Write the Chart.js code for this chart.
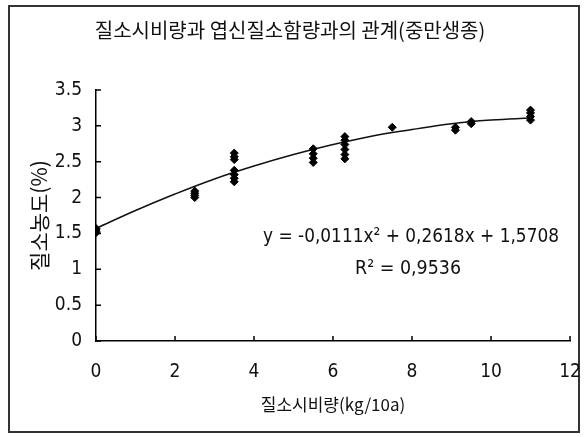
<!DOCTYPE html>
<html>
<head>
<meta charset="utf-8">
<script src="https://cdn.jsdelivr.net/npm/chart.js@4.4.1/dist/chart.umd.min.js"></script>
<style>
  html, body { margin: 0; padding: 0; background: #fff; }
</style>
</head>
<body>
<canvas id="chart" width="587" height="437"></canvas>
<script>
// nitrogen application rate (kg/10a) and leaf blade N content (%)
const rateX = [0, 0, 0, 0,
  2.5, 2.5, 2.5, 2.5,
  3.5, 3.5, 3.5, 3.5, 3.5, 3.5, 3.5,
  5.5, 5.5, 5.5, 5.5,
  6.3, 6.3, 6.3, 6.3, 6.3, 6.3,
  7.5,
  9.1, 9.1,
  9.5, 9.5,
  11, 11, 11, 11];
const contentY = [1.51, 1.53, 1.55, 1.57,
  2.0, 2.03, 2.06, 2.09,
  2.62, 2.57, 2.53, 2.38, 2.32, 2.27, 2.22,
  2.49, 2.55, 2.61, 2.68,
  2.54, 2.6, 2.67, 2.74, 2.8, 2.85,
  2.98,
  2.94, 2.98,
  3.03, 3.06,
  3.08, 3.13, 3.18, 3.22];

// trend line
const trendX = [0, 1, 2, 3, 4, 5, 6, 7, 8, 9, 10, 11];
const trendY = [1.57, 1.82, 2.05, 2.26, 2.44, 2.60, 2.74, 2.86, 2.95, 3.03, 3.08, 3.11];

const yTickLabels = ['0', '0.5', '1', '1.5', '2', '2.5', '3', '3.5'];
const xTickLabels = ['0', '2', '4', '6', '8', '10', '12'];

const titleText = '질소시비량과 엽신질소함량과의 관계(중만생종)';
const xTitle = '질소시비량(kg/10a)';
const yTitle = '질소농도(%)';
const eqText = 'y = -0,0111x² + 0,2618x + 1,5708';
const r2Text = 'R² = 0,9536';

const numFont = '"Liberation Sans Narrow", "DejaVu Sans Condensed", "Liberation Sans", sans-serif';
const krFont = '"Noto Sans CJK KR", sans-serif';

// frame, inward tick marks and equation label
const extras = {
  id: 'extras',
  beforeDraw(chart) {
    const ctx = chart.ctx;
    ctx.save();
    ctx.fillStyle = '#fff';
    ctx.fillRect(0, 0, chart.width, chart.height);
    ctx.strokeStyle = '#333';
    ctx.lineWidth = 2;
    ctx.strokeRect(9, 6, 570, 426);
    ctx.restore();
  },
  afterDraw(chart) {
    const ctx = chart.ctx;
    const { x, y } = chart.scales;
    const area = chart.chartArea;
    ctx.save();
    ctx.strokeStyle = '#000';
    ctx.lineWidth = 1.5;
    ctx.beginPath();
    x.ticks.forEach(t => {
      const px = x.getPixelForValue(t.value);
      ctx.moveTo(px, area.bottom);
      ctx.lineTo(px, area.bottom - 5);
    });
    y.ticks.forEach(t => {
      const py = y.getPixelForValue(t.value);
      ctx.moveTo(area.left, py);
      ctx.lineTo(area.left + 5, py);
    });
    ctx.stroke();

    ctx.fillStyle = '#111';
    ctx.textAlign = 'center';
    ctx.textBaseline = 'middle';
    ctx.font = '20px ' + numFont;
    ctx.fillText(eqText, 411, 237, 296);
    ctx.fillText(r2Text, 408, 269, 106);
    ctx.restore();
  }
};

new Chart(document.getElementById('chart'), {
  type: 'scatter',
  data: {
    datasets: [{
      label: 'data',
      data: rateX.map((v, i) => ({ x: v, y: contentY[i] })),
      pointStyle: 'rectRot',
      pointRadius: 4,
      backgroundColor: '#000',
      borderColor: '#000',
      borderWidth: 1
    }, {
      label: 'trend',
      data: trendX.map((v, i) => ({ x: v, y: trendY[i] })),
      showLine: true,
      pointRadius: 0,
      borderColor: '#111',
      borderWidth: 1.5,
      tension: 0.4,
      fill: false
    }]
  },
  options: {
    responsive: false,
    animation: false,
    layout: { padding: { left: 10, right: 17, top: 6, bottom: 10 } },
    plugins: {
      legend: { display: false },
      tooltip: { enabled: false },
      title: {
        display: true,
        text: titleText,
        color: '#111',
        font: { family: krFont, size: 20, weight: 'normal' },
        padding: { top: 12, bottom: 48 }
      }
    },
    scales: {
      x: {
        type: 'linear',
        min: 0, max: 12,
        afterFit(scale) { scale.height = 86; scale.paddingRight = 0; },
        grid: { display: false, drawTicks: false },
        border: { display: true, color: '#000', width: 1.5 },
        ticks: {
          stepSize: 2,
          padding: 20,
          color: '#111',
          font: { family: numFont, size: 19 },
          callback: (v) => xTickLabels[xTickLabels.indexOf(String(v))] ?? ''
        },
        title: {
          display: true,
          text: xTitle,
          color: '#111',
          font: { family: krFont, size: 17 },
          padding: { top: 0, bottom: 12 }
        }
      },
      y: {
        type: 'linear',
        min: 0, max: 3.5,
        afterFit(scale) { scale.width = 86; },
        grid: { display: false, drawTicks: false },
        border: { display: true, color: '#000', width: 1.5 },
        ticks: {
          stepSize: 0.5,
          padding: 14,
          color: '#111',
          font: { family: numFont, size: 19 },
          callback: (v) => yTickLabels[Math.round(v * 2)] ?? ''
        },
        title: {
          display: true,
          text: yTitle,
          color: '#111',
          font: { family: krFont, size: 21 },
          padding: { top: 16, bottom: 0 }
        }
      }
    }
  },
  plugins: [extras]
});
</script>
</body>
</html>
